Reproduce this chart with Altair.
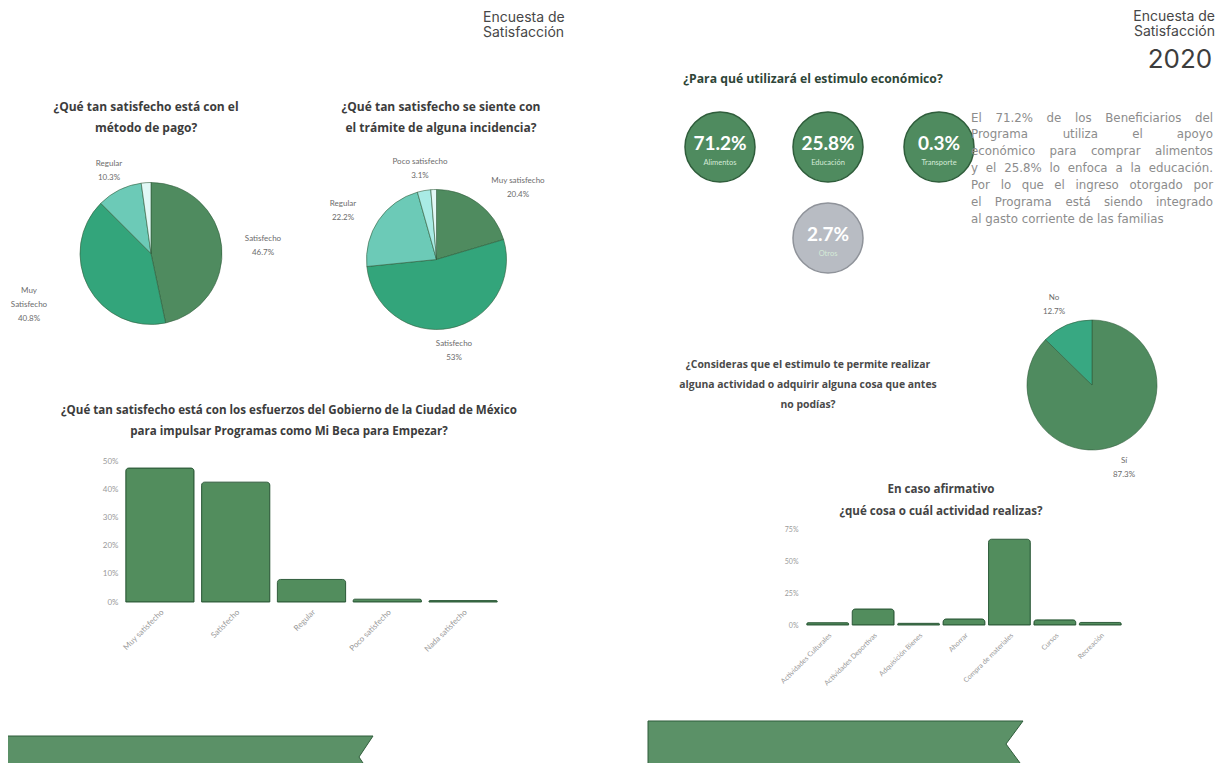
import altair as alt
import pandas as pd

# ---------------- data ----------------
pay_cats = ["Satisfecho", "Muy Satisfecho", "Regular", "Poco satisfecho"]
pay_vals = [46.7, 40.8, 10.3, 2.2]

inc_cats = ["Muy satisfecho", "Satisfecho", "Regular", "Poco satisfecho", "Nada satisfecho"]
inc_vals = [20.4, 53.0, 22.2, 3.1, 1.3]

gov_cats = ["Muy satisfecho", "Satisfecho", "Regular", "Poco satisfecho", "Nada satisfecho"]
gov_vals = [47.5, 42.5, 8.0, 1.0, 0.5]
gov_ticks = [0, 10, 20, 30, 40, 50]

use_cats = ["Alimentos", "Educación", "Transporte", "Otros"]
use_vals = [71.2, 25.8, 0.3, 2.7]

yes_cats = ["Sí", "No"]
yes_vals = [87.3, 12.7]

act_cats = ["Actividades Culturales", "Actividades Deportivas", "Adquisición Bienes",
            "Ahorrar", "Compra de materiales", "Cursos", "Recreación"]
act_vals = [1.8, 12.5, 1.3, 4.7, 67.0, 4.0, 2.0]
act_ticks = [0, 25, 50, 75]

# ---------------- layout / style ----------------
W, H = 1208, 755
OFF = 8  # page margin; positions below are page pixels

DARK = "#4f8b5f"
TEAL = "#33a57b"
LTEAL = "#6ccab7"
PALE = "#a9ebe5"
PALER = "#e2f8f6"
BAR = "#528d5d"
EDGE = "#2f5d3b"
GRAY_C = "#b8bcc3"
BANNER = "#5b9167"

TXT_DARK = "#3c3c3c"
LBL = "#6b6b6b"
AX = "#9a9a9a"
TFONT = "Open Sans"


def P(v):
    return v - OFF


def text_block(lines, x, y, size, color, weight="normal", align="center",
               font="Lato", lh=None):
    df = pd.DataFrame({"t": ["\n".join(lines)]})
    return alt.Chart(df).mark_text(
        align=align, baseline="alphabetic", fontSize=size, fontWeight=weight,
        color=color, font=font, lineBreak="\n", lineHeight=lh or size * 1.2,
    ).encode(x=alt.value(P(x)), y=alt.value(P(y)), text="t:N")


def pie(cats, vals, colors, cx, cy, r):
    df = pd.DataFrame({"cat": cats, "v": vals, "o": list(range(len(cats)))})
    return alt.Chart(df).mark_arc(radius=r, stroke=EDGE, strokeWidth=0.6).encode(
        theta=alt.Theta("v:Q", stack=True),
        order=alt.Order("o:Q"),
        color=alt.Color("cat:N", scale=alt.Scale(domain=cats, range=colors), legend=None),
        x=alt.value(P(cx)), y=alt.value(P(cy)),
    )


def pie_labels(texts, xs, ys):
    df = pd.DataFrame({"t": texts, "lx": [P(v) for v in xs], "ly": [P(v) for v in ys]})
    return alt.Chart(df).mark_text(
        lineBreak="\n", fontSize=8, color=LBL, font="Lato", baseline="alphabetic",
        lineHeight=14,
    ).encode(x=alt.X("lx:Q", scale=None), y=alt.Y("ly:Q", scale=None), text="t:N")


def pct(v):
    return f"{v:g}%"


def bars(cats, vals, xr, y0, ytop, ymax, ticks, yaxis_x, lab_size, pad):
    df = pd.DataFrame({"cat": cats, "v": vals})
    return alt.Chart(df).mark_bar(
        color=BAR, stroke=EDGE, strokeWidth=1,
        cornerRadiusTopLeft=3, cornerRadiusTopRight=3,
    ).encode(
        x=alt.X("cat:N", sort=cats,
                scale=alt.Scale(range=[P(xr[0]), P(xr[1])], paddingInner=pad, paddingOuter=pad / 2),
                axis=alt.Axis(orient="bottom", offset=P(y0) - H, labelAngle=-45,
                              domain=False, ticks=False, grid=False, title=None,
                              labelColor=AX, labelFontSize=lab_size, labelFont="Lato",
                              labelPadding=6, labelOverlap=False)),
        y=alt.Y("v:Q",
                scale=alt.Scale(domain=[0, ymax], range=[P(y0), P(ytop)], nice=False, zero=True),
                axis=alt.Axis(orient="left", offset=-P(yaxis_x), values=ticks,
                              labelExpr="datum.value + '%'", domain=False, ticks=False,
                              grid=False, title=None, labelColor=AX, labelFontSize=lab_size,
                              labelFont="Lato", labelPadding=4)),
    )


def banner(x0, x1, yc, hh, notch):
    w = (x1 - x0) / 2
    a = hh / w
    n = 1 - notch / w
    path = f"M-1,{-a:.4f}L1,{-a:.4f}L{n:.4f},0L1,{a:.4f}L-1,{a:.4f}Z"
    return alt.Chart(pd.DataFrame({"k": [0]})).mark_point(
        shape=path, size=(2 * w) ** 2, filled=True, fill=BANNER, opacity=1,
        stroke=EDGE, strokeWidth=1,
    ).encode(x=alt.value(P((x0 + x1) / 2)), y=alt.value(P(yc)))


# approximate DejaVu Sans advance widths (em), used only to justify the paragraph
CW = {"a": .613, "b": .635, "c": .550, "d": .635, "e": .615, "f": .352, "g": .635,
      "h": .634, "i": .278, "j": .278, "k": .579, "l": .278, "m": .974, "n": .634,
      "o": .612, "p": .635, "q": .635, "r": .411, "s": .521, "t": .392, "u": .634,
      "v": .592, "w": .818, "x": .592, "y": .592, "z": .525, "á": .613, "é": .615,
      "í": .278, "ó": .612, "ú": .634, "ñ": .634, "E": .632, "P": .603, "B": .686,
      "%": .950, ".": .318, " ": .318}


def tw(s, size):
    return sum(CW.get(ch, .636 if ch.isdigit() else .65) for ch in s) * size


def justified(lines, x0, x1, y0, lh, size, color, font):
    rows = []
    for i, line in enumerate(lines):
        y = y0 + i * lh
        words = line.split(" ")
        if i == len(lines) - 1 or len(words) == 1:
            rows.append({"w": line, "x": P(x0), "y": P(y), "a": "left"})
            continue
        widths = [tw(w, size) for w in words]
        gap = (x1 - x0 - sum(widths)) / (len(words) - 1)
        x = x0
        for j, (w, wd) in enumerate(zip(words, widths)):
            if j == len(words) - 1:
                rows.append({"w": w, "x": P(x1), "y": P(y), "a": "right"})
            else:
                rows.append({"w": w, "x": P(x), "y": P(y), "a": "left"})
            x += wd + gap
    df = pd.DataFrame(rows)
    out = []
    for al in ["left", "right"]:
        out.append(alt.Chart(df[df.a == al]).mark_text(
            align=al, baseline="alphabetic", fontSize=size, color=color, font=font,
        ).encode(x=alt.X("x:Q", scale=None), y=alt.Y("y:Q", scale=None), text="w:N"))
    return out


layers = []

# ---- headers ----
layers.append(text_block(["Encuesta de", "Satisfacción"], 483, 21.5, 14, "#474747",
                         align="left", font="Inter", lh=15))
layers.append(text_block(["Encuesta de", "Satisfacción"], 1215, 20.5, 14, "#474747",
                         align="right", font="Inter", lh=15))
layers.append(text_block(["2020"], 1180, 68, 26, "#3d3d3d", font="Inter"))

# ---- pie 1: método de pago ----
layers.append(text_block(["¿Qué tan satisfecho está con el", "método de pago?"],
                         146, 110.5, 12, TXT_DARK, weight="bold", font=TFONT, lh=21))
layers.append(pie(pay_cats, pay_vals, [DARK, TEAL, LTEAL, PALER], 151, 253.5, 71))
layers.append(pie_labels(
    [f"Satisfecho\n{pct(pay_vals[0])}", f"Muy\nSatisfecho\n{pct(pay_vals[1])}",
     f"Regular\n{pct(pay_vals[2])}"],
    [263, 29, 109], [241, 293, 166]))

# ---- pie 2: trámite de incidencia ----
layers.append(text_block(["¿Qué tan satisfecho se siente con", "el trámite de alguna incidencia?"],
                         441, 110.5, 12, TXT_DARK, weight="bold", font=TFONT, lh=21))
layers.append(pie(inc_cats, inc_vals, [DARK, TEAL, LTEAL, PALE, PALER], 436.5, 259.5, 70))
layers.append(pie_labels(
    [f"Muy satisfecho\n{pct(inc_vals[0])}", f"Satisfecho\n{pct(inc_vals[1])}",
     f"Regular\n{pct(inc_vals[2])}", f"Poco satisfecho\n{pct(inc_vals[3])}"],
    [518, 454, 343, 420], [183, 346, 206, 164]))

# ---- bar chart left ----
layers.append(text_block(
    ["¿Qué tan satisfecho está con los esfuerzos del Gobierno de la Ciudad de México",
     "para impulsar Programas como Mi Beca para Empezar?"],
    289, 413.5, 11.6, TXT_DARK, weight="bold", font=TFONT, lh=21))
layers.append(bars(gov_cats, gov_vals, [122, 501], 602, 461, 50, gov_ticks, 122, 8, 0.1))

# ---- stimulus circles ----
layers.append(text_block(["¿Para qué utilizará el estimulo económico?"], 813, 83, 12.2,
                         "#2e4537", weight="bold", font=TFONT))
circ_x = [720, 828, 939, 828]
circ_y = [147, 147, 147, 238]
cdf = pd.DataFrame({"cat": use_cats, "v": use_vals,
                    "cx": [P(v) for v in circ_x], "cy": [P(v) for v in circ_y]})
circ_colors = [DARK, DARK, DARK, GRAY_C]
circ_strokes = [EDGE, EDGE, EDGE, "#8f939a"]
layers.append(alt.Chart(cdf).mark_circle(size=3.1416 * 39.5 ** 2, opacity=1, strokeWidth=1.5).encode(
    x=alt.X("cx:Q", scale=None), y=alt.Y("cy:Q", scale=None),
    color=alt.Color("cat:N", scale=alt.Scale(domain=use_cats, range=circ_colors), legend=None),
    stroke=alt.Stroke("cat:N", scale=alt.Scale(domain=use_cats, range=circ_strokes), legend=None),
))
layers.append(alt.Chart(cdf).transform_calculate(
    lbl="format(datum.v, '.1f') + '%'"
).mark_text(fontSize=19, fontWeight="bold", color="white", font="Lato",
            baseline="alphabetic", dy=3).encode(
    x=alt.X("cx:Q", scale=None), y=alt.Y("cy:Q", scale=None), text="lbl:N"))
layers.append(alt.Chart(cdf).mark_text(fontSize=7.5, color="#d4ead7", font="Lato",
                                       baseline="alphabetic", dy=18).encode(
    x=alt.X("cx:Q", scale=None), y=alt.Y("cy:Q", scale=None), text="cat:N"))

# ---- paragraph (justified) ----
para = [f"El {use_vals[0]}% de los Beneficiarios del",
        "Programa utiliza el apoyo",
        "económico para comprar alimentos",
        f"y el {use_vals[1]}% lo enfoca a la educación.",
        "Por lo que el ingreso otorgado por",
        "el Programa está siendo integrado",
        "al gasto corriente de las familias"]
layers.extend(justified(para, 971, 1213, 121.5, 16.9, 11.8, "#8c8c8c", "DejaVu Sans"))

# ---- pie 3: sí / no ----
layers.append(text_block(["¿Consideras que el estimulo te permite realizar",
                          "alguna actividad o adquirir alguna cosa que antes",
                          "no podías?"],
                         808, 368, 10.4, "#4a4a4a", weight="bold", font=TFONT, lh=20))
layers.append(pie(yes_cats, yes_vals, [DARK, "#38a882"], 1092, 385, 65))
layers.append(pie_labels([f"Sí\n{pct(yes_vals[0])}", f"No\n{pct(yes_vals[1])}"],
                         [1124, 1054], [463, 300]))

# ---- bar chart right ----
layers.append(text_block(["En caso afirmativo", "¿qué cosa o cuál actividad realizas?"],
                         941, 493, 11.6, "#444444", weight="bold", font=TFONT, lh=21.5))
layers.append(bars(act_cats, act_vals, [805, 1123], 625, 529, 75, act_ticks, 802, 7, 0.08))

# ---- banners ----
layers.append(banner(0, 373, 757, 21, 14))
layers.append(banner(648, 1023, 744, 23, 17))

chart = alt.layer(*layers).resolve_scale(
    x="independent", y="independent", theta="independent",
    color="independent", stroke="independent",
).properties(
    width=W, height=H, padding=0, autosize=alt.AutoSizeParams(type="none"),
    background="white",
).configure_view(stroke=None).configure_axis(grid=False)

chart.save("out.html", embed_options={"renderer": "svg", "actions": False})
